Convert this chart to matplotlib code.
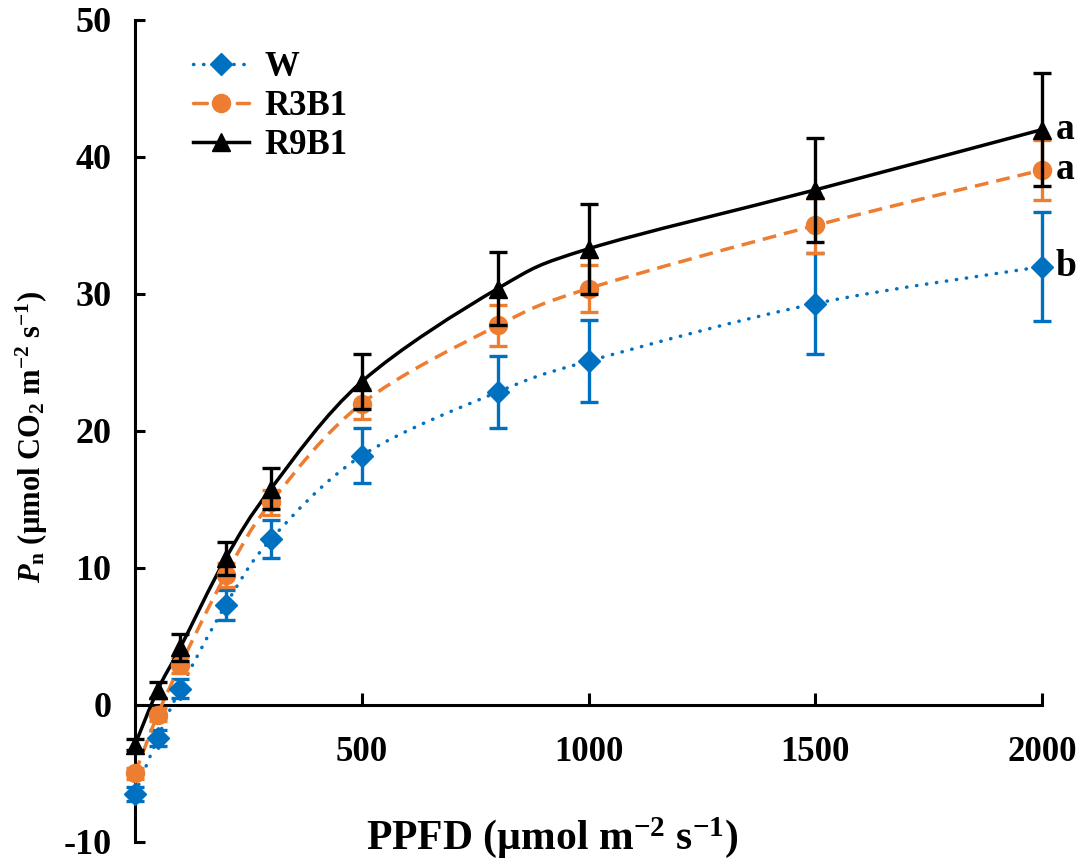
import numpy as np
import matplotlib
matplotlib.use('Agg')
import matplotlib.pyplot as plt
from matplotlib.path import Path
from matplotlib.patches import PathPatch
from matplotlib.lines import Line2D

plt.rcParams['font.family'] = ['Liberation Serif', 'DejaVu Serif']
plt.rcParams['font.weight'] = 'bold'
plt.rcParams['mathtext.fontset'] = 'custom'
plt.rcParams['mathtext.rm'] = 'Liberation Serif:bold'
plt.rcParams['mathtext.it'] = 'Liberation Serif:italic:bold'
plt.rcParams['mathtext.bf'] = 'Liberation Serif:bold'
plt.rcParams['axes.unicode_minus'] = False

# PPFD levels
ppfd = [0, 50, 100, 200, 300, 500, 800, 1000, 1500, 2000]
# net photosynthesis, mean and error
w_pn = [-6.5, -2.4, 1.2, 7.3, 12.1, 18.2, 22.85, 25.1, 29.3, 32.0]
w_err = [0.5, 0.6, 0.7, 1.1, 1.4, 2.0, 2.6, 3.0, 3.7, 4.0]
r3_pn = [-5.0, -0.7, 2.9, 9.5, 14.8, 22.0, 27.7, 30.4, 35.0, 39.05]
r3_err = [0.4, 0.5, 0.6, 0.9, 0.9, 1.1, 1.5, 1.7, 2.0, 2.2]
r9_pn = [-2.9, 1.1, 4.2, 10.7, 15.8, 23.6, 30.4, 33.3, 37.6, 42.0]
r9_err = [0.4, 0.6, 1.0, 1.2, 1.5, 2.0, 2.7, 3.3, 3.8, 4.1]
names = ['W', 'R3B1', 'R9B1']
letters = ['b', 'a', 'a']

BLUE = '#0070C0'
ORANGE = '#ED7D31'
BLACK = '#000000'


def smooth_path(x, y):
    # excel style smoothed line: cubic bezier through every point
    p = np.column_stack([x, y]).astype(float)
    n = len(p)
    verts = [p[0]]
    codes = [Path.MOVETO]
    for i in range(n - 1):
        p0 = p[i - 1] if i > 0 else p[i]
        p3 = p[i + 2] if i + 2 < n else p[i + 1]
        c1 = p[i] + (p[i + 1] - p0) / 6.0
        c2 = p[i + 1] - (p3 - p[i]) / 6.0
        verts += [c1, c2, p[i + 1]]
        codes += [Path.CURVE4] * 3
    return Path(verts, codes)


fig = plt.figure(figsize=(10.81, 8.65), dpi=100)
ax = fig.add_axes([0.1249, 0.0266, 0.8391, 0.9503])

series = [
    (w_pn, w_err, BLUE, 'D', 11, (0, (0.1, 2.8)), 'W'),
    (r3_pn, r3_err, ORANGE, 'o', 13, (0, (4, 2.3)), 'R3B1'),
    (r9_pn, r9_err, BLACK, '^', 12.5, '-', 'R9B1'),
]

handles = []
for k, (y, e, c, m, ms, ls, lab) in enumerate(series):
    patch = PathPatch(smooth_path(ppfd, y), fill=False, edgecolor=c, lw=2.5,
                      linestyle=ls, capstyle='round' if lab == 'W' else 'butt',
                      zorder=2 + k, clip_on=False)
    ax.add_patch(patch)
    eb = ax.errorbar(ppfd, y, yerr=e, fmt=m, color=c, ms=ms, ecolor=c,
                     elinewidth=2.4, capsize=6.5, capthick=2.4, zorder=3 + k,
                     clip_on=False)
    for art in eb.lines[1] + eb.lines[2]:
        art.set_clip_on(False)
    handles.append(Line2D([], [], color=c, lw=2.5, linestyle=ls, marker=m,
                          ms=ms, dash_capstyle='round'))

for y, let in zip([w_pn, r3_pn, r9_pn], letters):
    ax.annotate(let, (ppfd[-1], y[-1]), xytext=(10, 0), textcoords='offset points',
                va='center', ha='left', fontsize=27, fontweight='bold',
                annotation_clip=False)

ax.set_xlim(0, 2000)
ax.set_ylim(-10, 50)
ax.spines['top'].set_visible(False)
ax.spines['right'].set_visible(False)
ax.spines['bottom'].set_position(('data', 0))
ax.spines['left'].set_linewidth(2.2)
ax.spines['bottom'].set_linewidth(2.2)

ax.set_xticks([500, 1000, 1500, 2000])
ax.set_yticks(np.arange(-10, 51, 10))
ax.tick_params(axis='x', direction='in', length=9, width=2.2, pad=22, labelsize=25)
ax.tick_params(axis='y', direction='in', length=7, width=2.2, pad=17, labelsize=26)
for t in ax.get_xticklabels() + ax.get_yticklabels():
    t.set_fontweight('bold')

fig.text(552 / 1081, 1 - 838 / 865, 'PPFD (µmol m$^{-2}$ s$^{-1}$)',
         ha='center', va='center', fontsize=30, fontweight='bold')
fig.text(32 / 1081, 1 - 437 / 865,
         r'$\mathit{P}_{\mathrm{n}}$ (µmol CO$_2$ m$^{-2}$ s$^{-1}$)',
         ha='center', va='center', rotation=90, fontsize=22, fontweight='bold')

leg = ax.legend(handles, names, loc='upper left', bbox_to_anchor=(193 / 1081, 1 - 51 / 865),
                bbox_transform=fig.transFigure, frameon=False, fontsize=25,
                handlelength=1.6, handletextpad=0.45, labelspacing=0.17,
                borderpad=0, borderaxespad=0)
for t in leg.get_texts():
    t.set_fontweight('bold')

fig.savefig('out.png', dpi=100)
